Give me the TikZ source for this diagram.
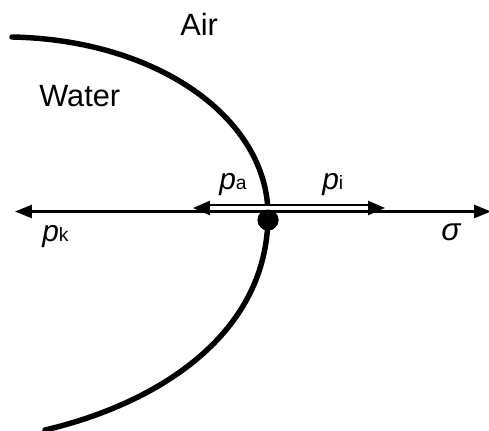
\documentclass[tikz,border=0pt]{standalone}
\usepackage{fontspec}
\setmainfont{Liberation Sans}
\usepackage{tikz}
\usetikzlibrary{arrows.meta,positioning}

\newcommand{\psub}[1]{\textit{p}{\fontsize{11}{12}\selectfont #1}}

\begin{document}
\begin{tikzpicture}[x=0.02cm, y=-0.02cm,
  curve/.style={line width=3.1pt, line cap=round},
  arr/.style={{Triangle[length=9.6pt,width=7.4pt]}-{Triangle[length=9.6pt,width=7.4pt]}, line width=1.4pt},
  dbl/.style={-{Triangle[length=9.6pt,width=8pt]}, double, line width=1.2pt, double distance=2pt},
  dot/.style={circle, fill=black, inner sep=0pt, minimum size=11.9pt},
  lbl/.style={font=\fontsize{17.5}{20}\selectfont, anchor=base west, inner sep=0pt},
  sym/.style={font=\fontsize{17}{19}\selectfont, anchor=base west, inner sep=0pt}
]
\useasboundingbox (0,0) rectangle (489,431);

%% ---- interface ----
\draw[curve] (12,37) .. controls (160,40) and (268,120) .. (268,215)
             .. controls (268,333) and (160,403) .. (45,430);

%% ---- forces ----
\node[dot] (O) at (268,220) {};
\coordinate (kend) at (15,211.5);
\coordinate (send) at (491,211.5);
\coordinate (c)    at (268,208);
\coordinate (aend) at (193,208);
\coordinate (iend) at (385,208);

\draw[arr] (kend) -- (send);
\draw[dbl] (c) -- (aend);
\draw[dbl] (c) -- (iend);
\node[dot] at (O) {};

%% Labels
\node[lbl] (air)   at (180,36)  {Air};
\node[lbl] (water) at (39,107)  {Water};
\node[sym] (pk)    at (42,242)  {\psub{k}};
\node[sym] (pa)    at (219,190) {\psub{a}};
\node[sym] (pi)    at (322,190) {\psub{i}};
\node[sym, font=\fontsize{18}{20}\selectfont] (sig) at (441,241) {\textit{σ}};

\end{tikzpicture}
\end{document}
